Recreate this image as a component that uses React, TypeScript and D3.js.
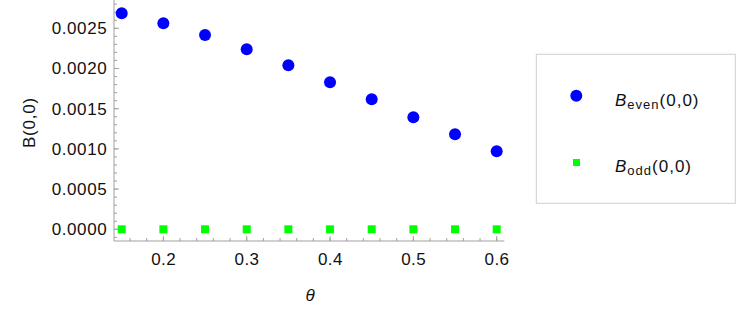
import React from "react";
import * as d3 from "d3";

const thetas = [0.15, 0.2, 0.25, 0.3, 0.35, 0.4, 0.45, 0.5, 0.55, 0.6];
const bEven = [0.002687, 0.002562, 0.002417, 0.002239, 0.00204, 0.001828, 0.001617, 0.001393, 0.001182, 0.00097];
const bOdd = [0, 0, 0, 0, 0, 0, 0, 0, 0, 0];
const xTicks = [0.2, 0.3, 0.4, 0.5, 0.6];
const yTicks = [0, 0.0005, 0.001, 0.0015, 0.002, 0.0025];

const FONT = "'Liberation Sans', Arial, Helvetica, sans-serif";

export default function App() {
  const W = 750, H = 323;
  const x = d3.scaleLinear().domain([0.15, 0.6]).range([121.7, 496.7]);
  const y = d3.scaleLinear().domain([0, 0.0025]).range([229.3, 28.3]);
  const xMin = 114, xMax = 504.3, yBot = 241, yTop = 0;
  const axisColor = "#a0a0a0";

  const xMinor = d3.range(0.14, 0.611, 0.02).filter((v) => x(v) >= xMin - 0.5 && x(v) <= xMax);
  const yMinor = d3.range(-0.0001, 0.00286, 0.0001).filter((v) => y(v) <= yBot && y(v) >= yTop);

  return (
    <svg width={W} height={H} style={{ position: "absolute", left: 0, top: 0, background: "#fff" }} fontFamily={FONT}>
      {/* axes */}
      <line x1={xMin} x2={xMax} y1={yBot} y2={yBot} stroke={axisColor} strokeWidth={1} />
      <line x1={xMin} x2={xMin} y1={yTop} y2={yBot} stroke={axisColor} strokeWidth={1} />
      {xMinor.map((v, i) => (
        <line key={"xm" + i} x1={x(v)} x2={x(v)} y1={yBot} y2={yBot - 3} stroke={axisColor} />
      ))}
      {xTicks.map((v, i) => (
        <g key={"xt" + i}>
          <line x1={x(v)} x2={x(v)} y1={yBot} y2={yBot - 5} stroke={axisColor} />
          <text x={x(v) + 0.3} y={265} textAnchor="middle" fontSize={17} letterSpacing={0.4} fill="#111">{v.toFixed(1)}</text>
        </g>
      ))}
      {yMinor.map((v, i) => (
        <line key={"ym" + i} x1={xMin} x2={xMin + 3} y1={y(v)} y2={y(v)} stroke={axisColor} />
      ))}
      {yTicks.map((v, i) => (
        <g key={"yt" + i}>
          <line x1={xMin} x2={xMin + 5} y1={y(v)} y2={y(v)} stroke={axisColor} />
          <text x={107.3} y={y(v) + 5.9} textAnchor="end" fontSize={17} letterSpacing={0.6} fill="#111">{v.toFixed(4)}</text>
        </g>
      ))}
      {/* axis labels */}
      <text x={310} y={301} textAnchor="middle" fontSize={17} fontStyle="italic" fill="#111">θ</text>
      <text transform="translate(35,122.5) rotate(-90)" textAnchor="middle" fontSize={17} letterSpacing={0.8} fill="#111">B(0,0)</text>

      {/* data */}
      {thetas.map((t, i) => (
        <circle key={"e" + i} cx={x(t)} cy={y(bEven[i])} r={6} fill="#0000ff" />
      ))}
      {thetas.map((t, i) => (
        <rect key={"o" + i} x={x(t) - 4} y={y(bOdd[i]) - 4} width={8} height={8} fill="#00ff00" />
      ))}

      {/* legend */}
      <rect x={536.3} y={54.3} width={199} height={149} fill="#fff" stroke="#cfcfcf" strokeWidth={1} />
      <circle cx={576.3} cy={95.7} r={6} fill="#0000ff" />
      <text x={615} y={106} fontSize={17} letterSpacing={1} fill="#111">
        <tspan fontStyle="italic">B</tspan>
        <tspan fontSize={13} dy={2.5}>even</tspan>
        <tspan dy={-2.5}>(0,0)</tspan>
      </text>
      <rect x={573} y={159} width={7} height={7} fill="#00ff00" />
      <text x={615} y={172} fontSize={17} letterSpacing={1} fill="#111">
        <tspan fontStyle="italic">B</tspan>
        <tspan fontSize={13} dy={2.5}>odd</tspan>
        <tspan dy={-2.5}>(0,0)</tspan>
      </text>
    </svg>
  );
}
